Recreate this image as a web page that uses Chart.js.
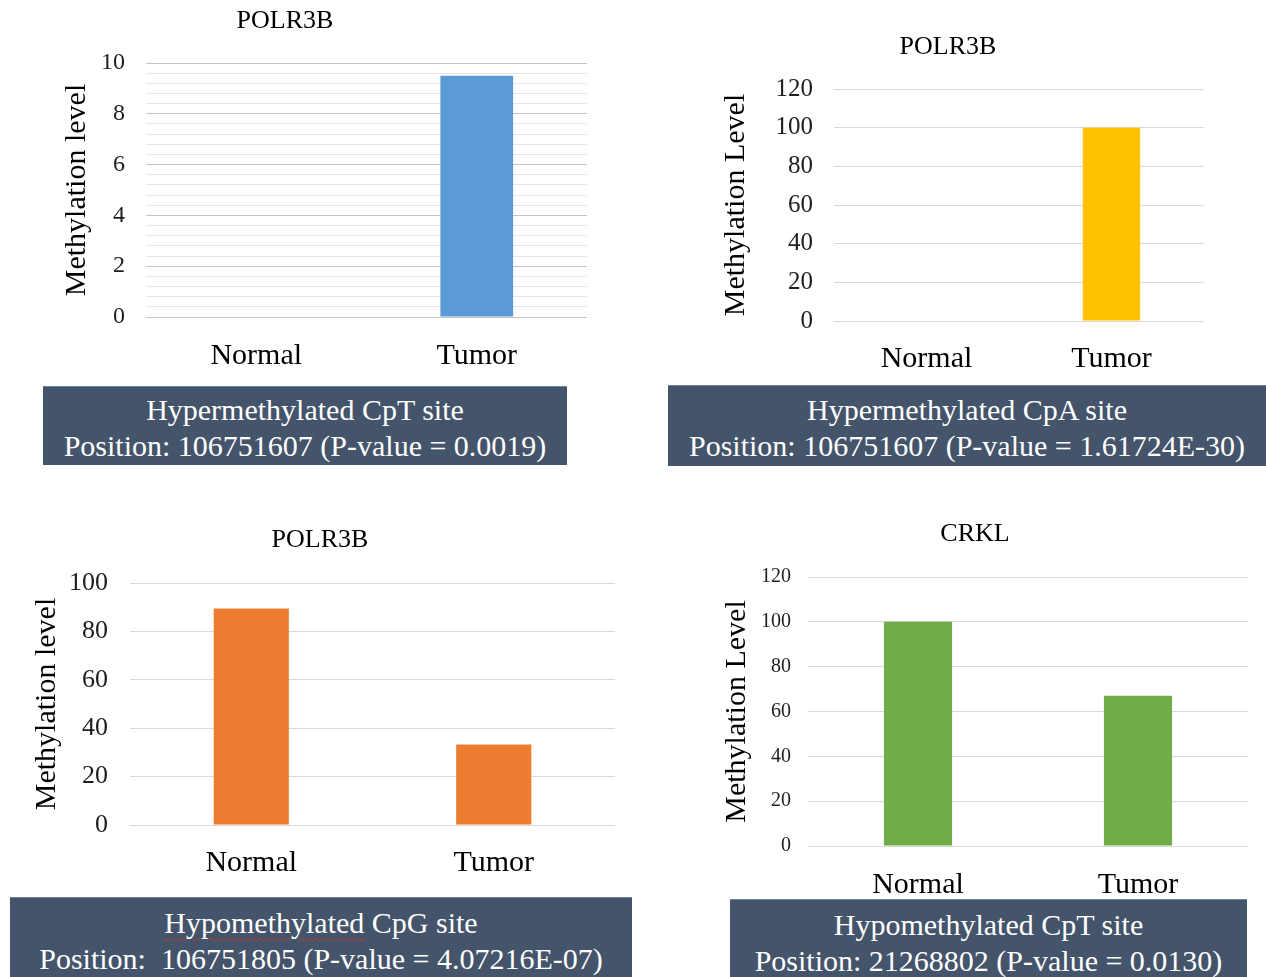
<!DOCTYPE html>
<html>
<head>
<meta charset="utf-8">
<script src="https://cdn.jsdelivr.net/npm/chart.js@4/dist/chart.umd.min.js"></script>
<style>
  body { margin: 0; background: #fff; width: 1266px; height: 977px; overflow: hidden; position: relative; font-family: 'Liberation Serif', 'Times New Roman', serif; }
  canvas { position: absolute; }
  .site-box {
    position: absolute; box-sizing: border-box; background: #44546a; color: #fff;
    border-top: 1px solid #6d829c; font-size: 30px; line-height: 36px; text-align: center; white-space: pre;
  }
  .spell { text-decoration: underline wavy #c0392b; text-decoration-thickness: 1px; text-underline-offset: 4px; }
</style>
</head>
<body>
<canvas id="chart1"></canvas>
<canvas id="chart2"></canvas>
<canvas id="chart3"></canvas>
<canvas id="chart4"></canvas>

<script>
// Chart data
const categories = ['Normal', 'Tumor'];
const panelTitles = ['POLR3B', 'POLR3B', 'POLR3B', 'CRKL'];
const axisTitles = ['Methylation level', 'Methylation Level', 'Methylation level', 'Methylation Level'];
const cptHyperValues = [0, 9.5];
const cpaHyperValues = [0, 100];
const cpgHypoValues = [89.5, 33.3];
const crklCptValues = [100, 67];
const axisMax = [10, 120, 100, 120];
const gridStep = [0.4, 20, 20, 20];   // first chart has minor grid lines
const labelStep = [2, 20, 20, 20];
const barColors = ['#5b9bd5', '#ffc000', '#ed7d31', '#70ad47'];
const siteHeadings = ['Hypermethylated CpT site', 'Hypermethylated CpA site', 'Hypomethylated CpG site', 'Hypomethylated CpT site'];
const sitePositions = [
    'Position: 106751607 (P-value = 0.0019)',
    'Position: 106751607 (P-value = 1.61724E-30)',
    'Position:  106751805 (P-value = 4.07216E-07)',
    'Position: 21268802 (P-value = 0.0130)'
];
const seriesValues = [cptHyperValues, cpaHyperValues, cpgHypoValues, crklCptValues];

// Placement of each panel on the page (plot area: left, top, right, bottom)
const panels = [
    { plot: [146, 63, 587, 317], titleX: 285, titleY: 22, tickSize: 24, tickPad: 21, axisTitleX: 77, labelY: 354, bar: 0.33,
      box: [43, 386, 524, 79], boxPad: 5 },
    { plot: [834, 89, 1204, 321], titleX: 948, titleY: 48, tickSize: 25, tickPad: 21, axisTitleX: 736, labelY: 357, bar: 0.31,
      box: [668, 385, 598, 81], boxPad: 6 },
    { plot: [130, 583, 615, 825], titleX: 320, titleY: 541, tickSize: 26, tickPad: 22, axisTitleX: 47, labelY: 861, bar: 0.31,
      box: [10, 897, 622, 80], boxPad: 7 },
    { plot: [808, 577, 1248, 846], titleX: 975, titleY: 535, tickSize: 20, tickPad: 17, axisTitleX: 737, labelY: 883, bar: 0.31,
      box: [730, 899, 517, 78], boxPad: 7 }
];

Chart.defaults.font.family = "'Liberation Serif', 'Times New Roman', serif";
Chart.defaults.color = '#1e1e1e';

function isMajor(value, step) {
    const r = value / step;
    return Math.abs(r - Math.round(r)) < 1e-6;
}

function drawPanel(i) {
    const p = panels[i];
    const [pl, pt, pr, pb] = p.plot;
    const titleSize = 26;
    const left = 2 * p.titleX - pr;
    const top = Math.round(p.titleY - titleSize * 0.6);
    const xHeight = 60;
    const canvas = document.getElementById('chart' + (i + 1));
    canvas.width = pr - left;
    canvas.height = pb + xHeight - top;
    canvas.style.left = left + 'px';
    canvas.style.top = top + 'px';

    new Chart(canvas.getContext('2d'), {
        type: 'bar',
        data: {
            labels: categories,
            datasets: [{
                data: seriesValues[i],
                backgroundColor: barColors[i],
                borderWidth: 0,
                barPercentage: p.bar,
                categoryPercentage: 1
            }]
        },
        options: {
            responsive: false,
            animation: false,
            layout: { padding: 0 },
            plugins: {
                legend: { display: false },
                tooltip: { enabled: false },
                title: {
                    display: true,
                    text: panelTitles[i],
                    color: '#000',
                    font: { size: titleSize, weight: 'normal', lineHeight: 1.2 },
                    padding: { top: 0, bottom: pt - top - titleSize * 1.2 }
                }
            },
            scales: {
                x: {
                    grid: { display: false },
                    border: { display: false },
                    ticks: { color: '#000', font: { size: 30 }, padding: p.labelY - pb - 24, maxRotation: 0 },
                    afterFit: s => { s.height = xHeight; }
                },
                y: {
                    min: 0,
                    max: axisMax[i],
                    border: { display: false },
                    grid: {
                        drawTicks: false,
                        lineWidth: 1,
                        color: ctx => (ctx.tick && isMajor(ctx.tick.value, labelStep[i]))
                            ? (i === 0 ? '#c4c4c4' : '#d9d9d9') : '#e6e6e6'
                    },
                    ticks: {
                        stepSize: gridStep[i],
                        autoSkip: false,
                        padding: p.tickPad,
                        color: '#1e1e1e',
                        font: { size: p.tickSize },
                        callback: v => isMajor(v, labelStep[i]) ? Math.round(v) : ''
                    },
                    title: {
                        display: true,
                        text: axisTitles[i],
                        color: '#000',
                        font: { size: 30, lineHeight: 1.2 },
                        padding: { top: p.axisTitleX - left - 18, bottom: 0 }
                    },
                    afterFit: s => { s.width = pl - left; }
                }
            }
        }
    });

    // dark site caption under the chart
    const box = document.createElement('div');
    box.className = 'site-box';
    const [bx, by, bw, bh] = p.box;
    box.style.left = bx + 'px';
    box.style.top = by + 'px';
    box.style.width = bw + 'px';
    box.style.height = bh + 'px';
    box.style.paddingTop = p.boxPad + 'px';
    const head = document.createElement('div');
    if (i === 2) {
        const word = document.createElement('span');
        word.className = 'spell';
        word.textContent = 'Hypomethylated';
        head.appendChild(word);
        head.appendChild(document.createTextNode(siteHeadings[i].slice('Hypomethylated'.length)));
    } else {
        head.textContent = siteHeadings[i];
    }
    const pos = document.createElement('div');
    pos.textContent = sitePositions[i];
    box.appendChild(head);
    box.appendChild(pos);
    document.body.appendChild(box);
}

panels.forEach((p, i) => drawPanel(i));
</script>
</body>
</html>
